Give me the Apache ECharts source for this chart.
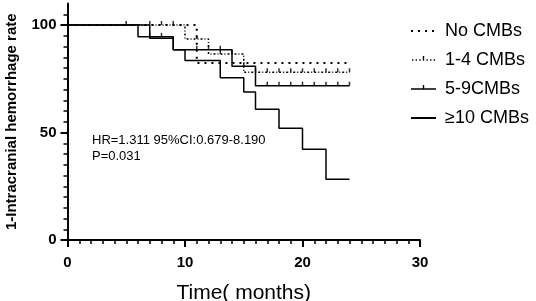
<!DOCTYPE html>
<html>
<head>
<meta charset="utf-8">
<script src="https://cdn.jsdelivr.net/npm/echarts@6/dist/echarts.min.js"></script>
<style>html,body{margin:0;padding:0;background:#fff}#c{width:536px;height:301px}</style>
</head>
<body>
<div id="c"></div>
<script>
// ---- data ----
const seriesNames = ['No CMBs', '1-4 CMBs', '5-9CMBs', '≥10 CMBs'];
const noTime = [0, 11, 24];
const noRate = [100, 82.3, 82.3];
const t14Time = [0, 10, 12, 15, 24];
const t14Rate = [100, 93.5, 86.5, 78, 78];
const t59Time = [0, 6, 9, 14, 16, 24];
const t59Rate = [100, 94.5, 88.5, 80.8, 71.8, 71.8];
const t10Time = [0, 7, 9, 10, 13, 15, 16, 18, 20, 22, 24];
const t10Rate = [100, 93.8, 88.5, 83.5, 75.5, 68.8, 60.8, 52, 42.2, 28.2, 28.2];
// censor marks
const c14Time = [5, 7, 8, 9, 11, 13, 14, 16, 17, 18, 19, 20, 21, 22, 23, 24];
const c14Rate = [100, 100, 100, 100, 93.5, 86.5, 86.5, 78, 78, 78, 78, 78, 78, 78, 78, 78];
const c59Time = [7, 8, 11, 12, 13, 15, 17, 18, 19, 20, 21, 22, 23, 24];
const c59Rate = [94.5, 94.5, 88.5, 88.5, 88.5, 80.8, 71.8, 71.8, 71.8, 71.8, 71.8, 71.8, 71.8, 71.8];
const xTicks = [0, 10, 20, 30];
const yTicks = [0, 50, 100];
const statText = ['HR=1.311 95%CI:0.679-8.190', 'P=0.031'];

const zip = (a, b) => a.map((v, i) => [v, b[i]]);
const FONT = 'Arial, "Liberation Sans", sans-serif';
const tick = 'rect';
// legend icons drawn in a 25 x 12 box (line at the middle, censor tick above it)
const iconBox = 'M0,0L0.01,0L0.01,0.01Z M24.99,12L25,12L25,11.99Z ';
const legendSolidTick = 'path://' + iconBox + 'M0,5.3L25,5.3L25,6.8L0,6.8Z M11.8,2L13.2,2L13.2,6L11.8,6Z';
let dots = '';
for (let x = 1; x < 25; x += 3.6) {
  if (Math.abs(x - 12) > 2) dots += `M${x},5.3L${x + 1.4},5.3L${x + 1.4},6.8L${x},6.8Z `;
}
const legendDotTick = 'path://' + iconBox + dots + 'M11.8,2L13.2,2L13.2,6.8L11.8,6.8Z';

const chart = echarts.init(document.getElementById('c'), null, {renderer: 'canvas'});
chart.setOption({
  animation: false,
  backgroundColor: '#fff',
  grid: {left: 67.5, right: 116, top: 3.5, bottom: 61, containLabel: false, outerBoundsMode: 'none'},
  xAxis: {
    type: 'value', min: 0, max: 30, interval: 10,
    name: 'Time( months)', nameLocation: 'middle', nameGap: 43,
    nameTextStyle: {fontFamily: FONT, fontSize: 21, color: '#000'},
    axisLine: {lineStyle: {color: '#000', width: 2}},
    axisTick: {length: 7, lineStyle: {color: '#000', width: 2}},
    minorTick: {show: true, splitNumber: 10, length: 4, lineStyle: {color: '#000', width: 1.5}},
    axisLabel: {fontFamily: FONT, fontSize: 15, fontWeight: 'bold', color: '#000', margin: 15,
      formatter: v => xTicks.includes(v) ? String(v) : ''},
    splitLine: {show: false}
  },
  yAxis: {
    type: 'value', min: 0, max: 110, interval: 50,
    name: '1-Intracranial hemorrhage rate', nameLocation: 'middle', nameGap: 48,
    nameTextStyle: {fontFamily: FONT, fontSize: 15, fontWeight: 'bold', color: '#000'},
    axisLine: {show: true, lineStyle: {color: '#000', width: 2}},
    axisTick: {show: true, length: 7, lineStyle: {color: '#000', width: 2},
      customValues: yTicks},
    minorTick: {show: true, splitNumber: 10, length: 4, lineStyle: {color: '#000', width: 1.5}},
    axisLabel: {fontFamily: FONT, fontSize: 15, fontWeight: 'bold', color: '#000', margin: 11,
      customValues: yTicks},
    splitLine: {show: false}
  },
  legend: {
    orient: 'vertical', left: 405, top: 17, itemWidth: 25, itemHeight: 12, itemGap: 11,
    symbolKeepAspect: false,
    itemStyle: {opacity: 0},
    data: [
      {name: seriesNames[0]},
      {name: seriesNames[1], icon: legendDotTick, itemStyle: {opacity: 1, color: '#000'}},
      {name: seriesNames[2], icon: legendSolidTick, itemStyle: {opacity: 1, color: '#000'}},
      {name: seriesNames[3]}
    ],
    textStyle: {fontFamily: FONT, fontSize: 18, color: '#000', padding: [0, 0, 0, 4]}
  },
  graphic: [{
    type: 'text', left: 92, top: 132,
    style: {text: statText.join('\n'), font: '13px ' + FONT, fill: '#000', lineHeight: 16}
  }],
  series: [
    {name: seriesNames[0], type: 'line', step: 'end', data: zip(noTime, noRate), symbol: 'none',
     lineStyle: {color: '#000', width: 2, type: [2, 5]}, itemStyle: {color: '#000'}, z: 3},
    {name: seriesNames[1], type: 'line', step: 'end', data: zip(t14Time, t14Rate), symbol: 'none',
     lineStyle: {color: '#000', width: 1.5, type: [2, 2, 1, 2]}, itemStyle: {color: '#000'}, z: 3},
    {name: seriesNames[2], type: 'line', step: 'end', data: zip(t59Time, t59Rate), symbol: 'none',
     lineStyle: {color: '#000', width: 1.5}, itemStyle: {color: '#000'}, z: 3},
    {name: seriesNames[3], type: 'line', step: 'end', data: zip(t10Time, t10Rate), symbol: 'none',
     lineStyle: {color: '#000', width: 1.5}, itemStyle: {color: '#000'}, z: 3},
    {type: 'scatter', data: zip(c14Time, c14Rate), symbol: tick, symbolSize: [1.5, 4],
     symbolOffset: [0, -2], itemStyle: {color: '#000'}, z: 4, silent: true},
    {type: 'scatter', data: zip(c59Time, c59Rate), symbol: tick, symbolSize: [1.5, 4],
     symbolOffset: [0, -2], itemStyle: {color: '#000'}, z: 4, silent: true}
  ]
});
</script>
</body>
</html>
